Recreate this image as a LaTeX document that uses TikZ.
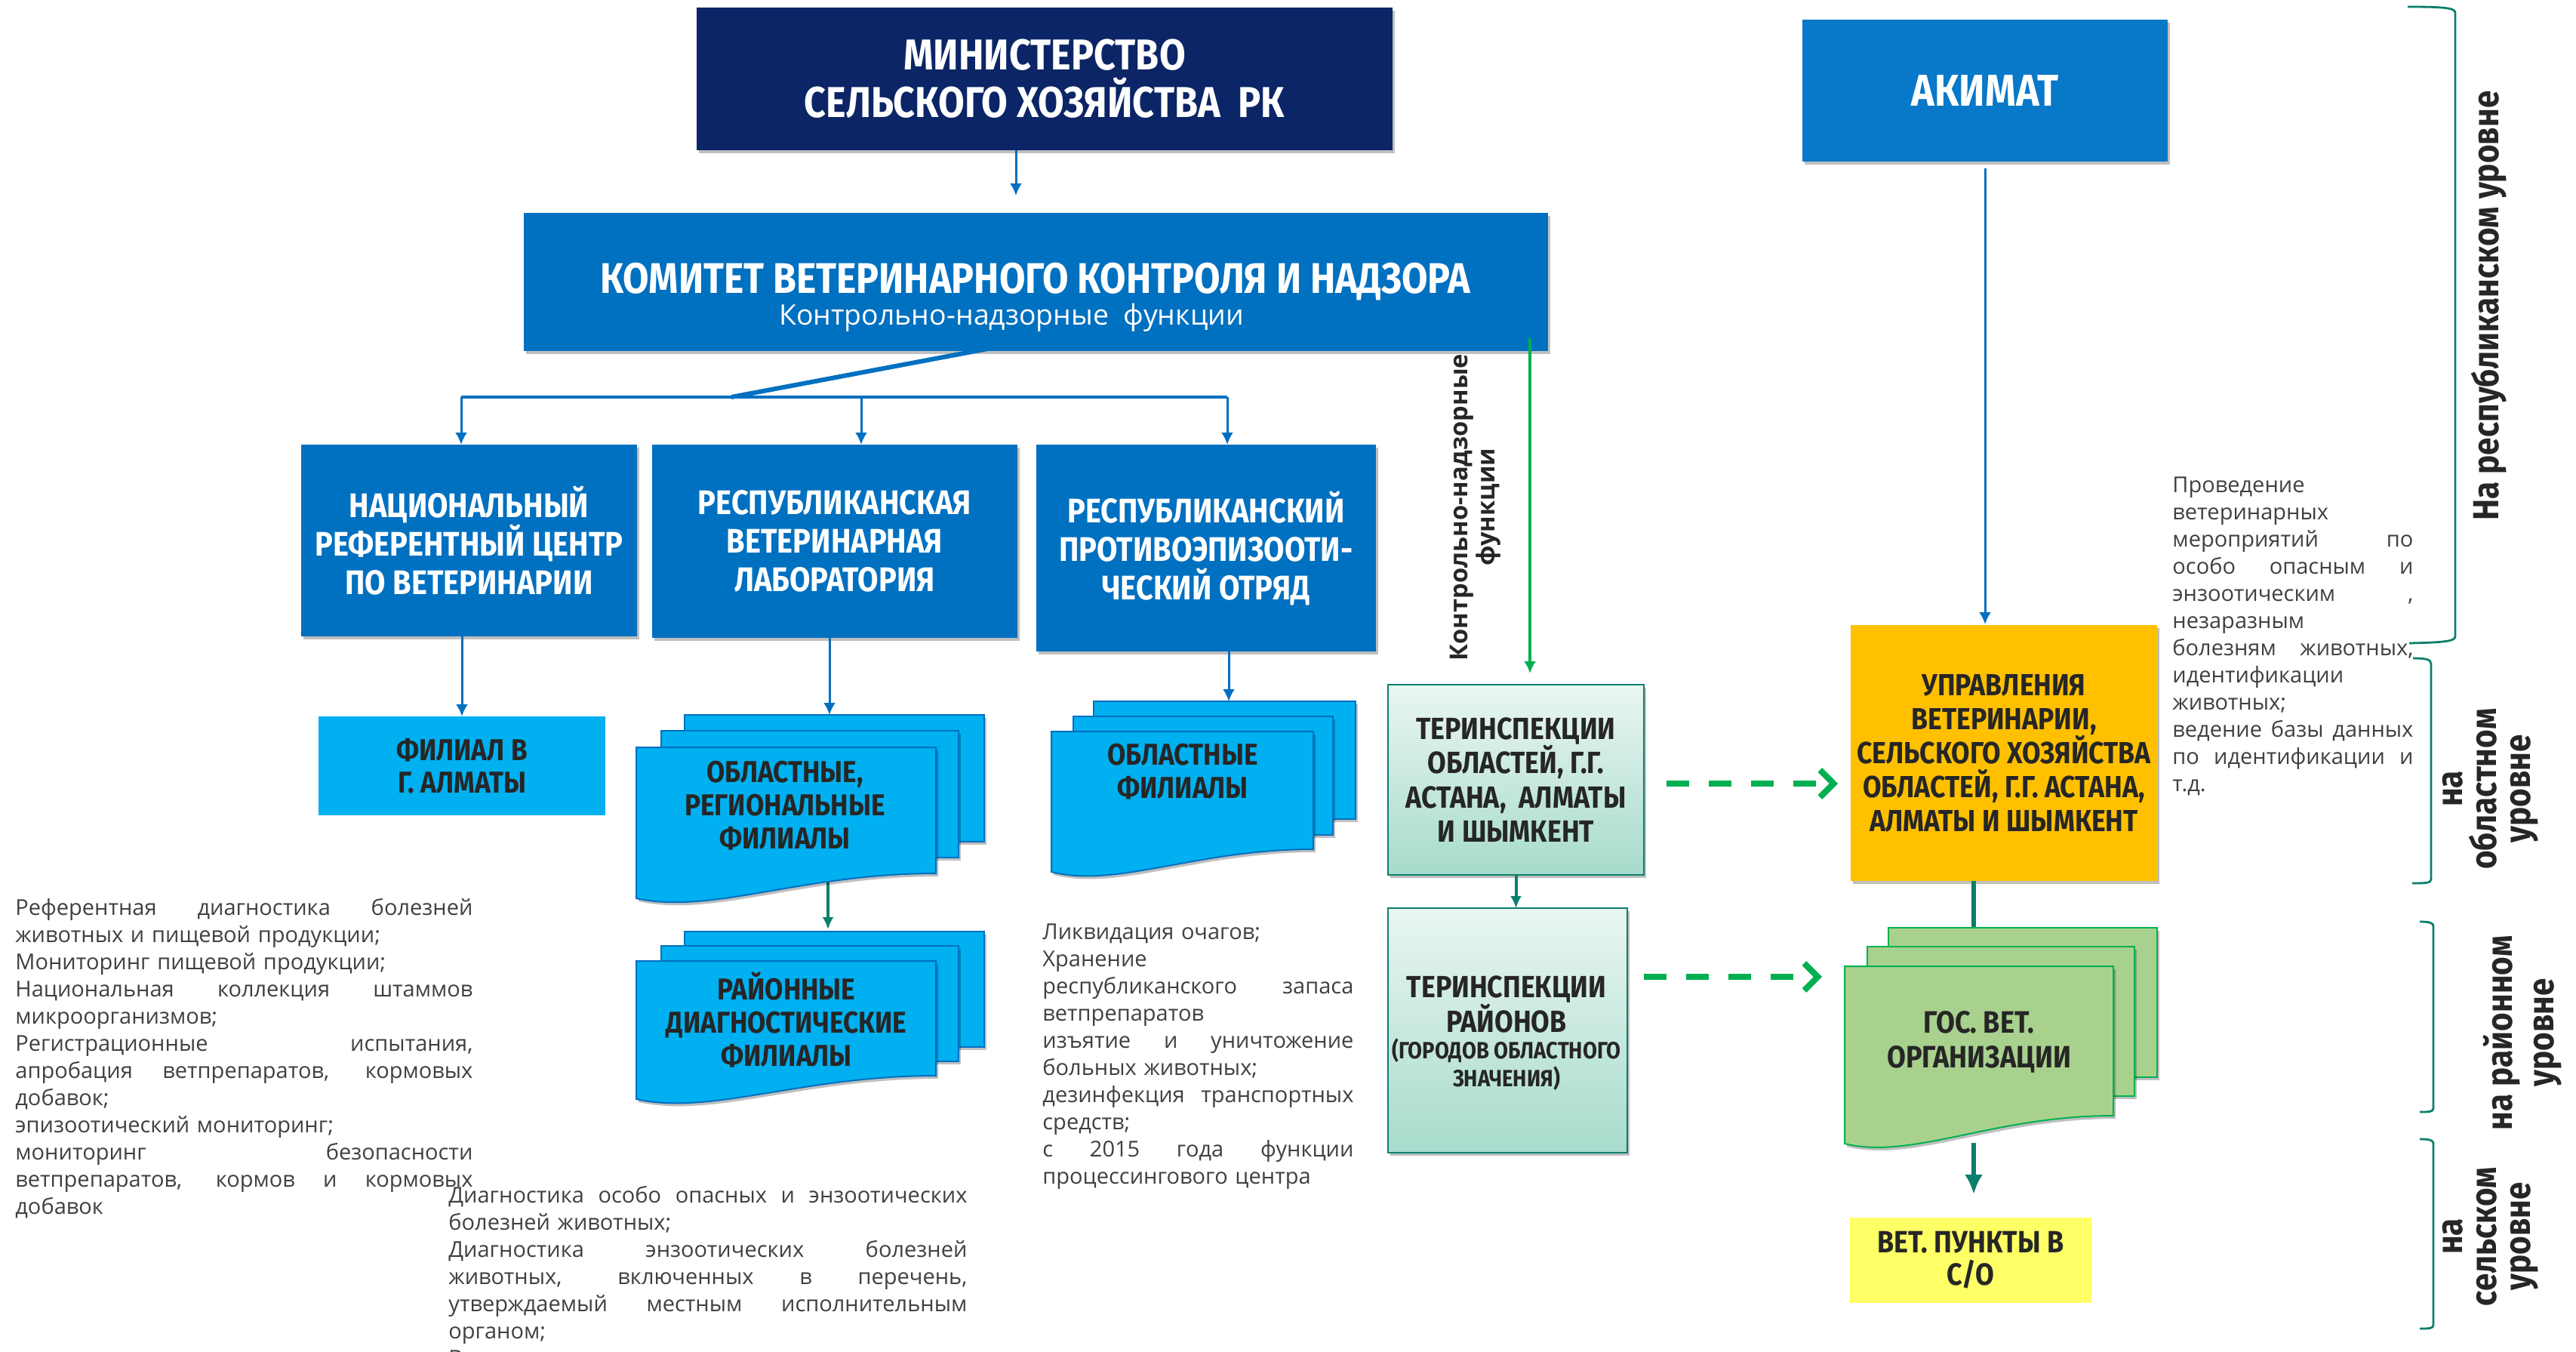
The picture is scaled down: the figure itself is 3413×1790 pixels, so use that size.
\documentclass[tikz,border=0pt]{standalone}
\usepackage{fontspec}
\setmainfont{Open Sans}
\newfontfamily\cond[FakeStretch=0.88]{Fira Sans Bold}
\usetikzlibrary{arrows.meta,shadows}
\definecolor{navy}{HTML}{0B2566}
\definecolor{kblue}{HTML}{0070C0}
\definecolor{akblue}{HTML}{0878C8}
\definecolor{lblue}{HTML}{00B0F0}
\definecolor{gr}{HTML}{00B050}
\definecolor{teal2}{HTML}{0B7F6C}
\definecolor{mint1}{HTML}{EAF6F2}
\definecolor{mint2}{HTML}{A7DBCC}
\definecolor{amber}{HTML}{FFC000}
\definecolor{lgreen}{HTML}{A9D18E}
\definecolor{lyel}{HTML}{FFFF66}
\definecolor{txt}{HTML}{404040}
\definecolor{dk}{HTML}{262626}
\newcommand\bx[7]{%
  \pgfmathsetmacro\bxcx{(#2+#4)/2}%
  \pgfmathsetmacro\bxcy{(#3+#5)/2}%
  \pgfmathsetmacro\bxw{(#4-#2)/2}%
  \pgfmathsetmacro\bxh{(#5-#3)/2}%
  \node[#6,minimum width=\bxw pt,minimum height=\bxh pt] (#1) at (\bxcx,\bxcy) {#7};}
\newcommand\docfront[6]{%
  \pgfmathsetmacro\dfa{#1+0.55*(#3-#1)}%
  \pgfmathsetmacro\dfb{#1+0.25*(#3-#1)}%
  \pgfmathsetmacro\dfc{#5+22}%
  \path[#6] (#1,#2) -- (#3,#2) -- (#3,#4) .. controls (\dfa,#4) and (\dfb,\dfc) .. (#1,#5) -- cycle;}
\newcommand\J[2]{\makebox[#1][s]{\spaceskip=0.26em plus 1fil\xspaceskip=0.26em plus 1fil #2}}
\newcommand\Lf[2]{\makebox[#1][l]{#2}}
\tikzset{
  box/.style={inner sep=0pt, outer sep=0pt, align=center},
  ghost/.style={inner sep=0pt, outer sep=0pt},
  shad/.style={drop shadow={shadow xshift=1.5pt, shadow yshift=-2pt, opacity=0.25, fill=black}},
  navybox/.style={box, fill=navy, text=white, font=\cond\fontsize{28.6}{31.5}\selectfont, shad},
  bluebox/.style={box, fill=kblue, text=white, font=\cond\fontsize{22.6}{25.5}\selectfont, shad},
  akbox/.style={box, fill=akblue, text=white, font=\cond\fontsize{29.5}{30}\selectfont, shad},
  lbbox/.style={box, fill=lblue, text=dk, font=\cond\fontsize{20}{21.5}\selectfont},
  terbox/.style={box, top color=mint1, bottom color=mint2, draw=teal2, line width=1.2pt, text=dk, font=\cond\fontsize{20.3}{22.7}\selectfont, shad},
  uprbox/.style={box, fill=amber, text=dk, font=\cond\fontsize{20.2}{22.5}\selectfont, shad},
  vetbox/.style={box, fill=lyel, text=dk, font=\cond\fontsize{20.4}{21.5}\selectfont},
  lbsheet/.style={fill=lblue, draw=kblue, line width=1pt, shad},
  gsheet/.style={fill=lgreen, draw=gr, line width=1pt, shad},
  lbtext/.style={align=center, text=dk, font=\cond\fontsize{20}{22}\selectfont, inner sep=0pt},
  body/.style={align=left, text=txt, font=\fontsize{14.5}{18}\selectfont, inner sep=0pt, anchor=north west},
  lvl/.style={align=center, text=dk, font=\cond\fontsize{24}{22.5}\selectfont, inner sep=0pt, rotate=90},
  barrow/.style={draw=kblue, line width=1.5pt, -{Latex[length=8pt,width=8pt]}},
  blueline/.style={draw=kblue, line width=2pt},
  diagline/.style={draw=kblue, line width=3pt},
  garrow/.style={draw=gr, line width=2.2pt, -{Latex[length=8pt,width=8pt]}},
  tarrow/.style={draw=teal2, line width=2pt, -{Latex[length=8pt,width=7.5pt]}},
  tline/.style={draw=teal2, line width=3.2pt},
  tbigarrow/.style={draw=teal2, line width=3.2pt, -{Latex[length=13pt,width=12pt]}},
  dasharrow/.style={draw=gr, line width=4pt, dash pattern=on 15pt off 13pt, -{Straight Barb[length=9pt,width=18pt]}},
  brk/.style={draw=teal2, line width=1.4pt},
}
\begin{document}
\begin{tikzpicture}[x=0.5pt,y=-0.5pt]
\useasboundingbox (0,0) rectangle (3413,1790);
\fill[white] (0,0) rectangle (3413,1790);

% ---------- main boxes ----------
\bx{min}{923}{10}{1845}{199}{navybox}{МИНИСТЕРСТВО\\СЕЛЬСКОГО ХОЗЯЙСТВА\ \ РК}
\bx{kom}{694}{282}{2051}{465}{bluebox}{}
\node[text=white, font=\cond\fontsize{28.4}{30}\selectfont, inner sep=0pt] (komt) at (1372,373) {КОМИТЕТ ВЕТЕРИНАРНОГО КОНТРОЛЯ И НАДЗОРА};
\node[text=white, font=\fontsize{18.7}{20}\selectfont, inner sep=0pt] (koms) at (1340,421) {Контрольно-надзорные\ \ функции};
\bx{nrc}{399}{589}{844}{843}{bluebox}{НАЦИОНАЛЬНЫЙ\\РЕФЕРЕНТНЫЙ ЦЕНТР\\ПО ВЕТЕРИНАРИИ}
\bx{rvl}{864}{589}{1348}{845}{bluebox}{РЕСПУБЛИКАНСКАЯ\\ВЕТЕРИНАРНАЯ\\ЛАБОРАТОРИЯ}
\bx{rpo}{1373}{589}{1823}{863}{bluebox}{РЕСПУБЛИКАНСКИЙ\\ПРОТИВОЭПИЗООТИ-\\ЧЕСКИЙ ОТРЯД}
\bx{fil}{422}{949}{802}{1080}{lbbox}{ФИЛИАЛ В\\Г. АЛМАТЫ}
\bx{akim}{2388}{26}{2872}{214}{akbox}{АКИМАТ}
\bx{ter1}{1839}{907}{2178}{1159}{terbox}{ТЕРИНСПЕКЦИИ\\ОБЛАСТЕЙ, Г.Г.\\АСТАНА,\ \ АЛМАТЫ\\И ШЫМКЕНТ}
\bx{ter2}{1839}{1203}{2156}{1527}{terbox}{}
\node[lbtext, font=\cond\fontsize{20.3}{23}\selectfont] (ter2a) at (1996,1330) {ТЕРИНСПЕКЦИИ\\РАЙОНОВ};
\node[lbtext, font=\cond\fontsize{15.6}{18.5}\selectfont] (ter2b) at (1996,1410) {(ГОРОДОВ ОБЛАСТНОГО\\ЗНАЧЕНИЯ)};
\bx{upr}{2452}{828}{2858}{1167}{uprbox}{УПРАВЛЕНИЯ\\ВЕТЕРИНАРИИ,\\СЕЛЬСКОГО ХОЗЯЙСТВА\\ОБЛАСТЕЙ, Г.Г. АСТАНА,\\АЛМАТЫ И ШЫМКЕНТ}
\bx{vet}{2451}{1613}{2771}{1726}{vetbox}{ВЕТ. ПУНКТЫ В\\С/О}

% ghost nodes for the document stacks
\bx{obl}{843}{947}{1304}{1199}{ghost}{}
\bx{rai}{843}{1234}{1304}{1465}{ghost}{}
\bx{oblf}{1393}{929}{1796}{1163}{ghost}{}
\bx{gos}{2444}{1229}{2858}{1526}{ghost}{}

% ---------- helper coordinates ----------
\coordinate (c1) at (1346,0);
\coordinate (dtop) at (1367,451);
\coordinate (bj) at (969,526);
\coordinate (bl) at (611,526);
\coordinate (bm) at (1141,526);
\coordinate (br) at (1626,526);
\coordinate (c2) at (1099,0);
\coordinate (c3) at (1628,0);
\coordinate (c4) at (1097,0);
\coordinate (gstart) at (2027,448);
\coordinate (c5) at (2615,0);
\coordinate (c6) at (0,1038);
\coordinate (c7) at (0,1294);

% ---------- connectors (under the stacks) ----------
\draw[tarrow, shorten >=1.5pt] (obl.center -| c4) -- (rai.north -| c4);
\draw[tline] (upr.south -| c5) -- (gos.north -| c5);
\draw[tbigarrow, shorten >=15.5pt] ([yshift=6pt]gos.south -| c5) -- (vet.north -| c5);

% ---------- document stacks ----------
\path[lbsheet] (907,947) rectangle (1304,1115);
\path[lbsheet] (876,968) rectangle (1270,1136);
\docfront{843}{990}{1240}{1157}{1190}{lbsheet}
\path[lbsheet] (907,1234) rectangle (1304,1387);
\path[lbsheet] (876,1253) rectangle (1270,1406);
\docfront{843}{1273}{1240}{1425}{1456}{lbsheet}
\path[lbsheet] (1449,929) rectangle (1796,1085);
\path[lbsheet] (1422,949) rectangle (1766,1106);
\docfront{1393}{969}{1740}{1125}{1155}{lbsheet}
\path[gsheet] (2502,1229) rectangle (2858,1427);
\path[gsheet] (2474,1254) rectangle (2828,1452);
\docfront{2444}{1280}{2800}{1478}{1515}{gsheet}

\node[lbtext] (oblt) at (1040,1067) {ОБЛАСТНЫЕ,\\РЕГИОНАЛЬНЫЕ\\ФИЛИАЛЫ};
\node[lbtext] (rait) at (1042,1351) {РАЙОННЫЕ\\ДИАГНОСТИЧЕСКИЕ\\ФИЛИАЛЫ};
\node[lbtext] (oblft) at (1567,1022) {ОБЛАСТНЫЕ\\ФИЛИАЛЫ};
\node[lbtext, font=\cond\fontsize{20.5}{23}\selectfont] (gost) at (2622,1380) {ГОС. ВЕТ.\\ОРГАНИЗАЦИИ};

% ---------- connectors ----------
\draw[barrow, shorten >=11.5pt] (min.south -| c1) -- (kom.north -| c1);
\draw[diagline] (dtop) -- (bj);
\draw[blueline] (bl) -- (br);
\draw[barrow] (bl) -- (bl |- nrc.north);
\draw[barrow] (bm) -- (bm |- rvl.north);
\draw[barrow] (br) -- (br |- rpo.north);
\draw[barrow] (fil.north |- nrc.south) -- (fil.north);
\draw[barrow] (rvl.south -| c2) -- (obl.north -| c2);
\draw[barrow] (rpo.south -| c3) -- (oblf.north -| c3);
\draw[garrow, shorten >=7.5pt] (gstart) -- (ter1.north -| gstart);
\draw[tarrow] (ter1.south) -- (ter1.south |- ter2.north);
\draw[barrow, shorten <=4.5pt, shorten >=0.5pt] (akim.south) -- (akim.south |- upr.north);
\draw[dasharrow, shorten <=15pt, shorten >=8.5pt] (ter1.east |- c6) -- (upr.west |- c6);
\draw[dasharrow, shorten <=11pt, shorten >=15pt] (ter2.east |- c7) -- (gos.west |- c7);

% vertical label
\node[rotate=90, align=center, text=dk, font=\bfseries\fontsize{16.3}{18}\selectfont, inner sep=0pt] (cnf) at (1955,672) {Контрольно-надзорные\\функции};

% ---------- brackets ----------
\draw[brk] (3190,9) .. controls (3235,9) and (3253,10) .. (3253,17) -- (3253,843) .. controls (3253,850) and (3235,851) .. (3192,852);
\draw[brk] (3197,872) .. controls (3212,872) and (3221,873) .. (3221,879) -- (3221,1165) .. controls (3221,1170) and (3212,1170) .. (3196,1170);
\draw[brk] (3206,1221) .. controls (3218,1221) and (3224,1222) .. (3224,1227) -- (3224,1468) .. controls (3224,1473) and (3218,1473) .. (3206,1473);
\draw[brk] (3206,1509) .. controls (3218,1509) and (3224,1510) .. (3224,1515) -- (3224,1755) .. controls (3224,1760) and (3218,1760) .. (3206,1760);

\node[lvl] (l1) at (3298,405) {На республиканском уровне};
\node[lvl] (l2) at (3300,1045) {на\\областном\\уровне};
\node[lvl, font=\cond\fontsize{24}{27.5}\selectfont] (l3) at (3342,1368) {на районном\\уровне};
\node[lvl] (l4) at (3300,1638) {на\\сельском\\уровне};

% ---------- body texts ----------
\begin{scope}
\clip (0,0) rectangle (3413,1790);
\node[body, text width=303pt] (t1) at (20,1190) {%
\J{303pt}{Референтная диагностика болезней}\\
\Lf{303pt}{животных и пищевой продукции;}\\
\Lf{303pt}{Мониторинг пищевой продукции;}\\
\J{303pt}{Национальная коллекция штаммов}\\
\Lf{303pt}{микроорганизмов;}\\
\J{303pt}{Регистрационные испытания,}\\
\J{303pt}{апробация ветпрепаратов, кормовых}\\
\Lf{303pt}{добавок;}\\
\Lf{303pt}{эпизоотический мониторинг;}\\
\J{303pt}{мониторинг безопасности}\\
\J{303pt}{ветпрепаратов, кормов и кормовых}\\
\Lf{303pt}{добавок}};
\node[body, text width=343.5pt] (t2) at (594,1571) {%
\J{343.5pt}{Диагностика особо опасных и энзоотических}\\
\Lf{343.5pt}{болезней животных;}\\
\J{343.5pt}{Диагностика энзоотических болезней}\\
\J{343.5pt}{животных, включенных в перечень,}\\
\J{343.5pt}{утверждаемый местным исполнительным}\\
\Lf{343.5pt}{органом;}\\
\Lf{343.5pt}{Ветсанэкспертиза}};
\node[body, text width=206pt] (t3) at (1381,1223) {%
\Lf{206pt}{Ликвидация очагов;}\\
\Lf{206pt}{Хранение}\\
\J{206pt}{республиканского запаса}\\
\Lf{206pt}{ветпрепаратов}\\
\J{206pt}{изъятие и уничтожение}\\
\Lf{206pt}{больных животных;}\\
\J{206pt}{дезинфекция транспортных}\\
\Lf{206pt}{средств;}\\
\J{206pt}{с 2015 года функции}\\
\Lf{206pt}{процессингового центра}};
\node[body, text width=159.5pt] (t4) at (2878,631) {%
\Lf{159.5pt}{Проведение}\\
\Lf{159.5pt}{ветеринарных}\\
\J{159.5pt}{мероприятий по}\\
\J{159.5pt}{особо опасным и}\\
\J{159.5pt}{энзоотическим ,}\\
\Lf{159.5pt}{незаразным}\\
\J{159.5pt}{болезням животных,}\\
\Lf{159.5pt}{идентификации}\\
\Lf{159.5pt}{животных;}\\
\J{159.5pt}{ведение базы данных}\\
\J{159.5pt}{по идентификации и}\\
\Lf{159.5pt}{т.д.}};
\end{scope}
\end{tikzpicture}
\end{document}
